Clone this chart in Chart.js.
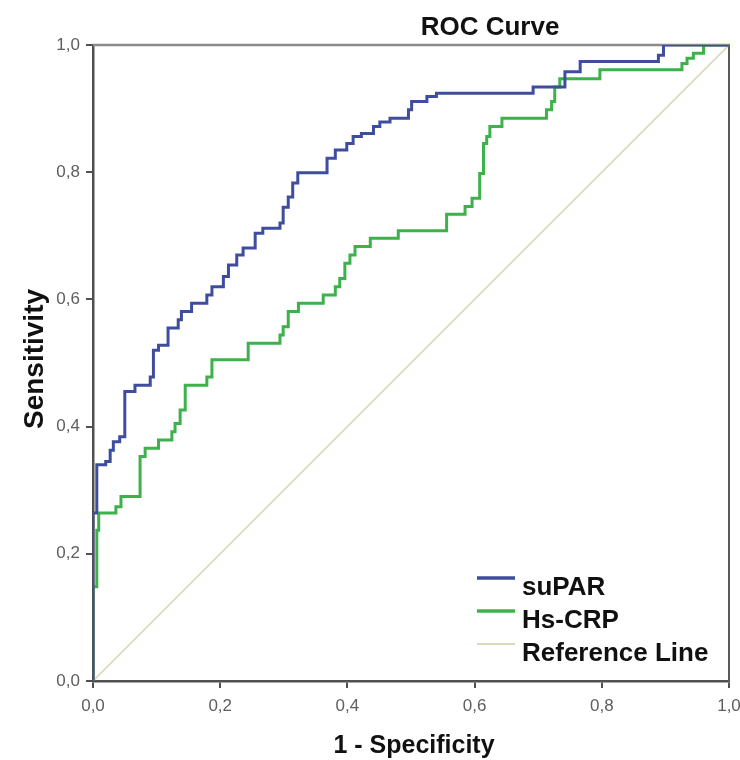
<!DOCTYPE html>
<html>
<head>
<meta charset="utf-8">
<script src="https://cdn.jsdelivr.net/npm/chart.js@4.4.1/dist/chart.umd.min.js"></script>
<style>
html,body{margin:0;padding:0;background:#ffffff;}
#wrap{width:740px;height:760px;position:relative;}
</style>
</head>
<body>
<div id="wrap"><canvas id="c" width="740" height="760"></canvas></div>
<script>
const chartTitle = 'ROC Curve';
const xTitle = '1 - Specificity';
const yTitle = 'Sensitivity';
const seriesNames = ['suPAR', 'Hs-CRP', 'Reference Line'];
const tickValues = [0, 0.2, 0.4, 0.6, 0.8, 1.0];
const tickLabels = ['0,0', '0,2', '0,4', '0,6', '0,8', '1,0'];

const suparFPR = [0, 0, 0.006, 0.020, 0.027, 0.032, 0.042, 0.050, 0.066, 0.090, 0.095, 0.103, 0.118, 0.134, 0.139, 0.155, 0.179, 0.187, 0.205, 0.213, 0.226, 0.236, 0.255, 0.267, 0.294, 0.299, 0.307, 0.314, 0.322, 0.368, 0.381, 0.399, 0.409, 0.422, 0.441, 0.451, 0.467, 0.496, 0.501, 0.525, 0.540, 0.692, 0.742, 0.766, 0.889, 0.897, 1];
const suparTPR = [0, 0.264, 0.340, 0.345, 0.363, 0.376, 0.384, 0.455, 0.465, 0.478, 0.520, 0.528, 0.555, 0.568, 0.581, 0.594, 0.607, 0.620, 0.636, 0.654, 0.670, 0.681, 0.704, 0.712, 0.720, 0.745, 0.761, 0.783, 0.799, 0.822, 0.835, 0.845, 0.856, 0.861, 0.872, 0.879, 0.885, 0.898, 0.911, 0.919, 0.924, 0.934, 0.958, 0.974, 0.984, 1, 1];

const crpFPR = [0, 0, 0.006, 0.009, 0.036, 0.044, 0.074, 0.082, 0.103, 0.124, 0.129, 0.137, 0.145, 0.179, 0.187, 0.244, 0.294, 0.299, 0.307, 0.323, 0.362, 0.381, 0.388, 0.396, 0.404, 0.412, 0.436, 0.480, 0.556, 0.585, 0.596, 0.608, 0.614, 0.619, 0.624, 0.643, 0.713, 0.721, 0.726, 0.734, 0.797, 0.926, 0.934, 0.944, 0.960, 1];
const crpTPR = [0, 0.148, 0.237, 0.264, 0.274, 0.290, 0.353, 0.366, 0.379, 0.392, 0.405, 0.426, 0.465, 0.478, 0.505, 0.531, 0.544, 0.557, 0.581, 0.594, 0.607, 0.620, 0.633, 0.657, 0.670, 0.683, 0.696, 0.708, 0.734, 0.746, 0.759, 0.798, 0.845, 0.856, 0.872, 0.885, 0.898, 0.911, 0.934, 0.947, 0.961, 0.971, 0.979, 0.987, 1, 1];

const refFPR = [0, 1];
const refTPR = [0, 1];

const toXY = (xs, ys) => xs.map((x, i) => ({x: x, y: ys[i]}));

const FONT = '"Liberation Sans", Arial, sans-serif';
const AXIS_COLOR = '#505050';

const decorPlugin = {
  id: 'decor',
  beforeDatasetsDraw(chart) {
    const {ctx, chartArea: a} = chart;
    ctx.save();
    ctx.lineCap = 'butt';
    ctx.strokeStyle = '#8c8c8c';
    ctx.lineWidth = 2.5;
    ctx.beginPath();
    ctx.moveTo(a.left, a.top);
    ctx.lineTo(a.right + 1, a.top);
    ctx.stroke();
    ctx.strokeStyle = '#5a5a5a';
    ctx.lineWidth = 2;
    ctx.beginPath();
    ctx.moveTo(a.right, a.top);
    ctx.lineTo(a.right, a.bottom);
    ctx.stroke();
    ctx.restore();
  },
  afterDraw(chart) {
    const {ctx, chartArea: a} = chart;
    ctx.save();
    ctx.fillStyle = '#111111';
    ctx.textBaseline = 'alphabetic';
    // chart title
    ctx.font = 'bold 26px ' + FONT;
    ctx.textAlign = 'center';
    ctx.fillText(chartTitle, 490, 35);
    // x axis title
    ctx.font = 'bold 25px ' + FONT;
    ctx.fillText(xTitle, (a.left + a.right) / 2 + 3, 753);
    // y axis title
    ctx.save();
    ctx.font = 'bold 28px ' + FONT;
    ctx.translate(43, (a.top + a.bottom) / 2 - 4);
    ctx.rotate(-Math.PI / 2);
    ctx.fillText(yTitle, 0, 0);
    ctx.restore();
    // legend
    const ds = chart.data.datasets;
    const lx0 = 477, lx1 = 515, tx = 522;
    const baselines = [595, 628, 661];
    ctx.textAlign = 'left';
    ctx.font = 'bold 26px ' + FONT;
    ds.forEach((d, i) => {
      const by = baselines[i];
      ctx.strokeStyle = d.borderColor;
      ctx.lineWidth = i === 2 ? 2 : 3.5;
      ctx.beginPath();
      ctx.moveTo(lx0, by - 17);
      ctx.lineTo(lx1, by - 17);
      ctx.stroke();
      ctx.fillStyle = '#111111';
      ctx.fillText(d.label, tx, by);
    });
    ctx.restore();
  }
};

const scaleCommon = (isX) => ({
  type: 'linear',
  min: 0,
  max: 1,
  afterBuildTicks: (s) => { s.ticks = tickValues.map(v => ({value: v})); },
  ticks: {
    autoSkip: false,
    maxRotation: 0,
    padding: isX ? 8 : 6,
    color: '#5e5e5e',
    font: {family: FONT, size: 17},
    callback: (v, i) => tickLabels[i]
  },
  grid: {
    display: true,
    drawOnChartArea: false,
    drawTicks: true,
    tickLength: 7,
    color: AXIS_COLOR,
    lineWidth: 2
  },
  border: {display: true, color: AXIS_COLOR, width: 2.5},
  title: {display: false},
  afterFit: (s) => {
    if (isX) { s.height = 79; } else { s.width = 93; }
    s.paddingLeft = 0; s.paddingRight = 0; s.paddingTop = 0; s.paddingBottom = 0;
  }
});

new Chart(document.getElementById('c'), {
  type: 'line',
  data: {
    datasets: [
      {
        label: seriesNames[0],
        data: toXY(suparFPR, suparTPR),
        borderColor: '#3f4d9e',
        borderWidth: 3,
        stepped: 'before',
        pointRadius: 0,
        fill: false,
        tension: 0
      },
      {
        label: seriesNames[1],
        data: toXY(crpFPR, crpTPR),
        borderColor: '#3db24b',
        borderWidth: 3,
        stepped: 'before',
        pointRadius: 0,
        fill: false,
        tension: 0
      },
      {
        label: seriesNames[2],
        data: toXY(refFPR, refTPR),
        borderColor: '#dcd8bc',
        borderWidth: 1.6,
        pointRadius: 0,
        fill: false,
        tension: 0
      }
    ]
  },
  options: {
    responsive: false,
    animation: false,
    devicePixelRatio: 1,
    layout: {padding: {top: 45, right: 11, bottom: 0, left: 0}},
    plugins: {
      legend: {display: false},
      title: {display: false},
      tooltip: {enabled: false}
    },
    scales: {
      x: Object.assign(scaleCommon(true), {position: 'bottom'}),
      y: Object.assign(scaleCommon(false), {position: 'left'})
    }
  },
  plugins: [decorPlugin]
});
</script>
</body>
</html>
